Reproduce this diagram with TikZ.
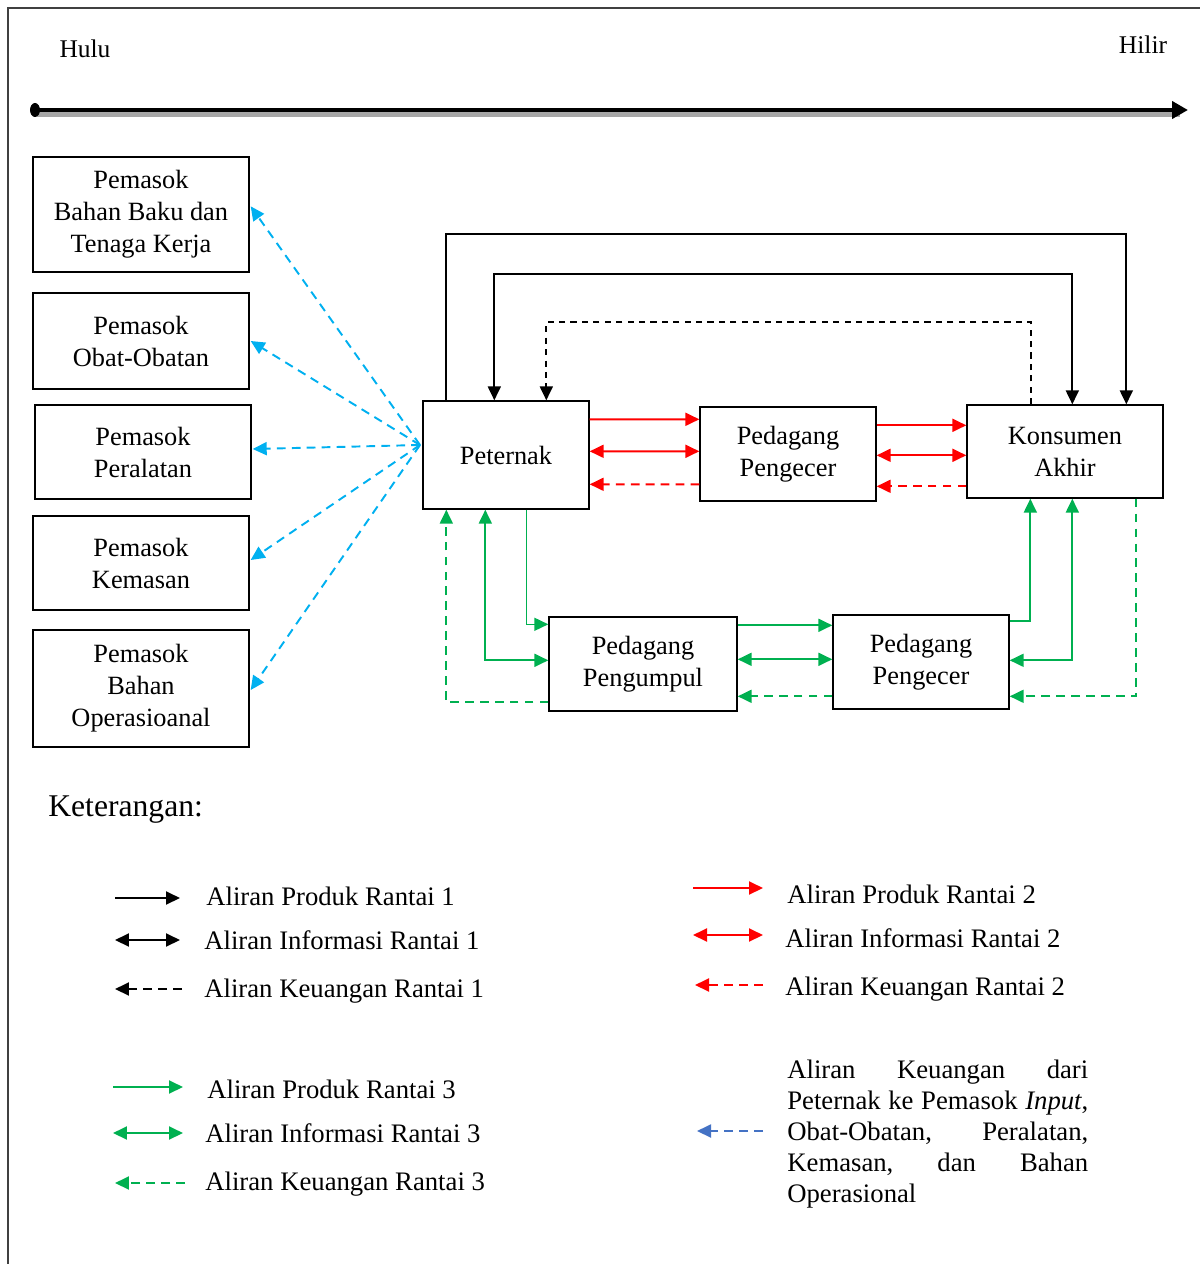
\documentclass[tikz,border=0pt]{standalone}
\usepackage{fontspec}
\setmainfont{Liberation Serif}
\usetikzlibrary{arrows.meta,positioning,calc}

\definecolor{hijau}{RGB}{0,176,80}
\definecolor{birumuda}{RGB}{0,176,240}
\definecolor{birutua}{RGB}{68,114,196}
\definecolor{merah}{RGB}{255,0,0}

\begin{document}
\begin{tikzpicture}[x=0.02cm, y=-0.02cm,
                    >={Triangle[length=0.28cm,width=0.26cm]},
                    every node/.style={align=center, inner sep=0pt,
                                       font=\fontsize{15}{18.2}\selectfont},
                    kotak/.style={draw, rectangle, line width=0.8pt},
                    produk/.style={->, line width=1.1pt},
                    informasi/.style={<->, line width=1.1pt},
                    keuangan/.style={->, line width=1.1pt, dash pattern=on 5pt off 3.5pt},
                    ket/.style={anchor=base west, font=\fontsize{15.2}{18}\selectfont}]
  \useasboundingbox (0,0) rectangle (1200,1264);
  \draw[line width=0.8pt, black!75] (8,1264) -- (8,8) -- (1200,8);

  % Hulu - Hilir
  \node[font=\fontsize{14.5}{17}\selectfont] (hulu) at (85,49) {Hulu};
  \node[font=\fontsize{14.5}{17}\selectfont] (hilir) at (1143,45) {Hilir};
  \coordinate (awal) at (35,110);
  \coordinate (akhir) at (1188,110);
  \draw[line width=3pt, black!35] ($(awal)+(2,4)$) -- ($(akhir)+(-8,4)$);
  \draw[line width=2.6pt, -{Triangle[length=0.32cm,width=0.34cm]}] (awal) -- (akhir);
  \fill (awal) ellipse (5 and 7);

  % Pemasok
  \node[kotak, minimum width=4.32cm, minimum height=2.30cm] (sup1) at (141,214.5)
    {Pemasok\\Bahan Baku dan\\Tenaga Kerja};
  \node[kotak, minimum width=4.32cm, minimum height=1.92cm] (sup2) at (141,341)
    {Pemasok\\Obat-Obatan};
  \node[kotak, minimum width=4.32cm, minimum height=1.88cm] (sup3) at (143,452)
    {Pemasok\\Peralatan};
  \node[kotak, minimum width=4.32cm, minimum height=1.88cm] (sup4) at (141,563)
    {Pemasok\\Kemasan};
  \node[kotak, minimum width=4.32cm, minimum height=2.34cm] (sup5) at (141,688.5)
    {Pemasok\\Bahan\\Operasioanal};

  % Pelaku rantai
  \node[kotak, minimum width=3.32cm, minimum height=2.16cm] (peternak) at (506,455) {Peternak};
  \node[kotak, minimum width=3.52cm, minimum height=1.88cm] (pengecer1) at (788,454)
    {Pedagang\\Pengecer};
  \node[kotak, minimum width=3.92cm, minimum height=1.86cm] (konsumen) at (1065,451.5)
    {Konsumen\\Akhir};
  \node[kotak, minimum width=3.76cm, minimum height=1.88cm] (pengumpul) at (643,664)
    {Pedagang\\Pengumpul};
  \node[kotak, minimum width=3.52cm, minimum height=1.88cm] (pengecer2) at (921,662)
    {Pedagang\\Pengecer};

  % Rantai 1
  \draw[produk] ($(peternak.north west)+(24,0)$) -- ++(0,-166) -| ($(konsumen.north west)+(160,0)$);
  \draw[informasi] ($(peternak.north west)+(72,0)$) -- ++(0,-126) -| ($(konsumen.north west)+(106,0)$);
  \draw[keuangan, dash pattern=on 3.5pt off 3pt] ($(konsumen.north west)+(65,0)$) -- ++(0,-82)
    -| ($(peternak.north west)+(124,0)$);

  % Rantai 2
  \draw[produk, merah] ($(peternak.north east)+(0,19)$) -- ($(pengecer1.north west)+(0,13)$);
  \draw[informasi, merah] ($(peternak.north east)+(0,51)$) -- ($(pengecer1.north west)+(0,45)$);
  \draw[keuangan, merah] ($(pengecer1.north west)+(0,78)$) -- ($(peternak.north east)+(0,84)$);
  \draw[produk, merah] ($(pengecer1.north east)+(0,19)$) -- ($(konsumen.north west)+(0,21)$);
  \draw[informasi, merah] ($(pengecer1.north east)+(0,49)$) -- ($(konsumen.north west)+(0,51)$);
  \draw[keuangan, merah] ($(konsumen.north west)+(0,82)$) -- ($(pengecer1.north east)+(0,80)$);

  % Rantai 3
  \draw[produk, hijau, line width=0.9pt] ($(peternak.south west)+(104,0)$) |- ($(pengumpul.north west)+(0,8)$);
  \draw[produk, hijau] ($(pengumpul.north east)+(0,9)$) -- ($(pengecer2.north west)+(0,11)$);
  \draw[produk, hijau] ($(pengecer2.north east)+(0,7)$) -| ($(konsumen.south west)+(64,0)$);
  \draw[informasi, hijau] ($(peternak.south west)+(63,0)$) |- ($(pengumpul.north west)+(0,44)$);
  \draw[informasi, hijau] ($(pengumpul.north east)+(0,43)$) -- ($(pengecer2.north west)+(0,45)$);
  \draw[informasi, hijau] ($(pengecer2.north east)+(0,46)$) -| ($(konsumen.south west)+(106,0)$);
  \draw[keuangan, hijau] ($(konsumen.south west)+(170,0)$) |- ($(pengecer2.north east)+(0,82)$);
  \draw[keuangan, hijau] ($(pengecer2.north west)+(0,82)$) -- ($(pengumpul.north east)+(0,80)$);
  \draw[keuangan, hijau] ($(pengumpul.north west)+(0,86)$) -| ($(peternak.south west)+(24,0)$);

  % Peternak ke pemasok
  \coordinate (pusat) at (420,445);
  \draw[keuangan, birumuda] (pusat) -- ($(sup1.north east)+(1,50)$);
  \draw[keuangan, birumuda] (pusat) -- ($(sup2.east)+(1,0)$);
  \draw[keuangan, birumuda] (pusat) -- ($(sup3.east)+(1,-3)$);
  \draw[keuangan, birumuda] (pusat) -- ($(sup4.east)+(1,-3)$);
  \draw[keuangan, birumuda] (pusat) -- ($(sup5.east)+(1,1.5)$);

  % Keterangan
  \node[anchor=west, font=\fontsize{18}{21}\selectfont] (judul) at (48,810) {Keterangan:};

  \coordinate (a1) at (115,898);  \coordinate (b1) at (180,898);
  \coordinate (a2) at (115,940);  \coordinate (b2) at (180,940);
  \coordinate (a3) at (115,989);  \coordinate (b3) at (182,989);
  \draw[produk] (a1) -- (b1);
  \draw[informasi] (a2) -- (b2);
  \draw[keuangan] (b3) -- (a3);
  \node[ket] (t1) at (206,905) {Aliran Produk Rantai 1};
  \node[ket] (t2) at (204,949) {Aliran Informasi Rantai 1};
  \node[ket] (t3) at (204,997) {Aliran Keuangan Rantai 1};

  \coordinate (a4) at (693,888);  \coordinate (b4) at (763,888);
  \coordinate (a5) at (693,935);  \coordinate (b5) at (763,935);
  \coordinate (a6) at (695,985);  \coordinate (b6) at (763,985);
  \draw[produk, merah] (a4) -- (b4);
  \draw[informasi, merah] (a5) -- (b5);
  \draw[keuangan, merah] (b6) -- (a6);
  \node[ket] (t4) at (787,903) {Aliran Produk Rantai 2};
  \node[ket] (t5) at (785,947) {Aliran Informasi Rantai 2};
  \node[ket] (t6) at (785,995) {Aliran Keuangan Rantai 2};

  \coordinate (a7) at (113,1087); \coordinate (b7) at (183,1087);
  \coordinate (a8) at (113,1133); \coordinate (b8) at (183,1133);
  \coordinate (a9) at (115,1183); \coordinate (b9) at (185,1183);
  \draw[produk, hijau] (a7) -- (b7);
  \draw[informasi, hijau] (a8) -- (b8);
  \draw[keuangan, hijau] (b9) -- (a9);
  \node[ket] (t7) at (207,1098) {Aliran Produk Rantai 3};
  \node[ket] (t8) at (205,1142) {Aliran Informasi Rantai 3};
  \node[ket] (t9) at (205,1190) {Aliran Keuangan Rantai 3};

  \coordinate (a10) at (697,1131); \coordinate (b10) at (763,1131);
  \draw[keuangan, birutua] (b10) -- (a10);
  \node[anchor=north west, align=left, text width=6.02cm,
        font=\fontsize{15.2}{17.6}\selectfont] (t10) at (787,1060)
    {\makebox[6.02cm][s]{Aliran\hfill Keuangan\hfill dari}\\
     \makebox[6.02cm][s]{Peternak\hfill ke\hfill Pemasok\hfill \textit{Input},}\\
     \makebox[6.02cm][s]{Obat-Obatan,\hfill Peralatan,}\\
     \makebox[6.02cm][s]{Kemasan,\hfill dan\hfill Bahan}\\
     Operasional};
\end{tikzpicture}
\end{document}
